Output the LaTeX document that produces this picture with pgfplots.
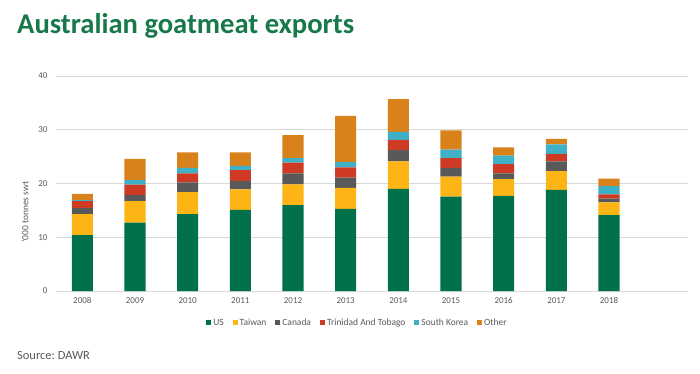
\documentclass[border=0pt]{standalone}
\usepackage{pgfplots}
\pgfplotsset{compat=1.18}
\usepackage{pgfplotstable}
\usepackage{fontspec}
\setmainfont{Carlito}
\definecolor{cUS}{HTML}{00714A}
\definecolor{cTW}{HTML}{FDB515}
\definecolor{cCA}{HTML}{595959}
\definecolor{cTT}{HTML}{CF3A24}
\definecolor{cSK}{HTML}{3FB1C7}
\definecolor{cOT}{HTML}{D9821C}
\definecolor{ttl}{HTML}{17784A}
\definecolor{txt}{HTML}{595959}
\pgfplotstableread{
x US TW CA TT SK OT
0 10.4 3.9 1.1 1.3 0.2 1.15
1 12.7 4.0 1.2 1.9 0.85 3.95
2 14.3 4.1 1.8 1.7 1.0 2.9
3 15.1 3.8 1.6 2.0 0.8 2.5
4 16.0 3.85 2.05 2.0 0.8 4.3
5 15.3 3.9 1.9 1.9 1.0 8.6
6 19.0 5.1 2.1 1.9 1.5 6.1
7 17.55 3.75 1.6 1.8 1.6 3.6
8 17.7 3.1 1.1 1.7 1.6 1.5
9 18.8 3.5 1.8 1.4 1.8 1.0
10 14.1 2.4 0.7 0.8 1.5 1.4
}\data
\frenchspacing
\begin{document}
\begin{tikzpicture}[x=1bp,y=1bp]
\useasboundingbox (0,0) rectangle (700,-373);
\node[anchor=west,text=ttl,font=\fontsize{28.7}{32}\selectfont\bfseries,inner sep=0pt] at (17,-26) {Australian goatmeat exports};
\node[anchor=west,text=txt,font=\fontsize{12.5}{14}\selectfont,inner sep=0pt] at (17,-355) {Source: DAWR};
\begin{axis}[
  at={(56bp,-291bp)}, anchor=south west,
  scale only axis, width=632bp, height=215bp,
  ybar stacked, bar width=0.4,
  xmin=-0.5, xmax=11.5, ymin=0, ymax=40,
  xtick={0,...,10},
  xticklabels={2008,2009,2010,2011,2012,2013,2014,2015,2016,2017,2018},
  ytick={0,10,20,30,40},
  axis line style={draw=none},
  major tick length=0pt,
  ymajorgrids, grid style={draw=black!15, line width=0.8bp},
  tick label style={font=\fontsize{9}{10}\selectfont, text=txt},
  /pgf/number format/assume math mode=true,
  yticklabel style={xshift=-5bp},
  xticklabel style={yshift=-3bp},
  ylabel={'000 tonnes swt},
  ylabel style={font=\fontsize{9.5}{11}\selectfont, text=txt, at={(axis description cs:-0.049,0.367)}, anchor=center},
  legend style={at={(0.477,-0.11)}, anchor=north, draw=none, font=\fontsize{9.5}{11}\selectfont, text=txt, legend columns=6, /tikz/every even column/.append style={column sep=7bp}},
  legend image code/.code={\fill[#1] (0bp,-2.5bp) rectangle (5bp,2.5bp);},
  every axis plot/.append style={draw=none},
]
\addplot[fill=cUS] table[x=x,y=US]{\data};
\addplot[fill=cTW] table[x=x,y=TW]{\data};
\addplot[fill=cCA] table[x=x,y=CA]{\data};
\addplot[fill=cTT] table[x=x,y=TT]{\data};
\addplot[fill=cSK] table[x=x,y=SK]{\data};
\addplot[fill=cOT] table[x=x,y=OT]{\data};
\legend{US,Taiwan,Canada,Trinidad And Tobago,South Korea,Other}
\end{axis}
\end{tikzpicture}
\end{document}
